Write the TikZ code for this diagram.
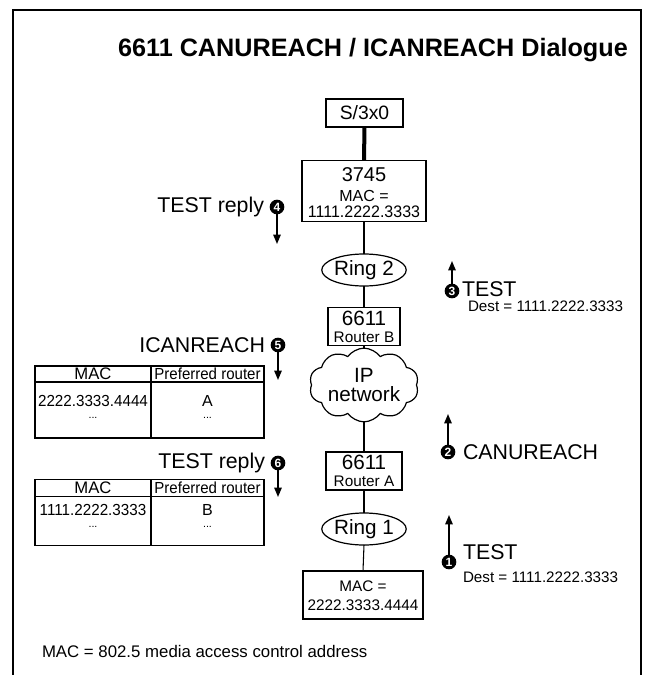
\documentclass[tikz,border=0pt]{standalone}
\usepackage{fontspec}
\setmainfont{Liberation Sans}
\usetikzlibrary{shapes.geometric,shapes.symbols,arrows.meta}
\newcommand{\fs}[1]{\fontsize{#1}{#1}\selectfont}
\begin{document}
\begin{tikzpicture}[x=0.75pt,y=-0.75pt,
  every node/.style={inner sep=0pt,outer sep=0pt},
  box/.style={draw,line width=0.9pt,rectangle},
  link/.style={line width=0.8pt},
  ring/.style={draw,line width=0.9pt,ellipse,minimum width=58pt,minimum height=24pt,font=\fs{15.5}},
  num/.style={circle,fill=black,text=white,minimum size=11pt,font=\bfseries\fs{9}},
  msg/.style={line width=1.2pt,-{Triangle[length=7pt,width=5.5pt]}},
  lab/.style={font=\fs{16}},
  small/.style={font=\fs{11.4}},
  cell/.style={draw,line width=0.8pt,rectangle},
  celltext/.style={font=\fs{12}},
]
\useasboundingbox (0,0) rectangle (647,675);
% frame
\coordinate (fbl) at (13,675); \coordinate (ftl) at (13,10);
\coordinate (ftr) at (641,10); \coordinate (fbr) at (641,675);
\draw[line width=1pt] (fbl) -- (ftl) -- (ftr) -- (fbr);
% title
\node[font=\bfseries\fs{18.9}] (title) at (373,50) {6611 CANUREACH / ICANREACH Dialogue};

% main column
\node[box,minimum width=57.75pt,minimum height=21pt,font=\fs{14.5}] (s3x0) at (364.5,113) {S/3x0};
\node[box,minimum width=93pt,minimum height=45.75pt] (b3745) at (364,191) {};
\node[font=\fs{15}] (t3745) at (364,175) {3745};
\node[font=\fs{12}] (m3745) at (364,196) {MAC =};
\node[font=\fs{12.5}] (a3745) at (364,211.5) {\scalebox{0.96}[1]{1111.2222.3333}};
\node[ring] (ring2) at (364,270) {Ring 2};
\node[box,minimum width=54pt,minimum height=28pt] (rb) at (364,326.5) {};
\node[font=\fs{15.5}] (rb1) at (364,318.5) {6611};
\node[font=\fs{11.5}] (rb2) at (364,337) {Router B};
\node[draw,line width=0.9pt,cloud,cloud puffs=10,cloud puff arc=110,aspect=1.7,
      minimum width=82pt,minimum height=46pt,align=center,font=\fs{15.5}] (cloud) at (364,385) {IP\\[-1pt]network};
\node[box,minimum width=57pt,minimum height=28.5pt] (ra) at (364,471) {};
\node[font=\fs{15.5}] (ra1) at (364,462.5) {6611};
\node[font=\fs{11.5}] (ra2) at (364,481) {Router A};
\node[ring] (ring1) at (364,529) {Ring 1};
\node[box,minimum width=90pt,minimum height=36pt] (host) at (363,595) {};
\node[font=\fs{11.5}] (hm) at (363,586) {MAC =};
\node[font=\fs{11.5}] (ha) at (363,605) {2222.3333.4444};

\draw[line width=3pt] (s3x0.south) -- (b3745.north);
\draw[link] (b3745.south) -- (ring2.north);
\draw[link] (ring2.south) -- (rb.north);
\draw[link] (rb.south) -- (cloud.north);
\draw[link] (cloud.south) -- (ra.north);
\draw[link] (ra.south) -- (ring1.north);
\draw[link] (ring1.south) -- (host.north);

% right side messages
\node[num] (n3) at (452,291) {3};
\coordinate (n3tip) at (452,261);
\draw[msg] (n3) -- (n3tip);
\node[lab,anchor=west] (l3) at (462,289) {TEST};
\node[small,anchor=west] (d3) at (468,306) {Dest = 1111.2222.3333};

\node[num] (n2) at (448,452) {2};
\coordinate (n2tip) at (448,414);
\draw[msg] (n2) -- (n2tip);
\node[lab,anchor=west] (l2) at (463,452) {CANUREACH};

\node[num] (n1) at (449,562) {1};
\coordinate (n1tip) at (449,515);
\draw[msg] (n1) -- (n1tip);
\node[lab,anchor=west] (l1) at (463,552) {TEST};
\node[small,anchor=west] (d1) at (463,577) {Dest = 1111.2222.3333};

% left side messages
\node[num] (n4) at (277,207) {4};
\coordinate (n4tip) at (277,244);
\draw[msg] (n4) -- (n4tip);
\node[lab,anchor=east] (l4) at (264,207) {TEST reply};

\node[num] (n5) at (278,345) {5};
\coordinate (n5tip) at (278,380);
\draw[msg] (n5) -- (n5tip);
\node[lab,anchor=east] (l5) at (265,345) {ICANREACH};

\node[num] (n6) at (278,463) {6};
\coordinate (n6tip) at (278,497);
\draw[msg] (n6) -- (n6tip);
\node[lab,anchor=east] (l6) at (265,463) {TEST reply};

% table 1
\node[cell,minimum width=87pt,minimum height=12pt] (t1h1) at (93,374) {};
\node[cell,minimum width=84.75pt,minimum height=12pt] (t1h2) at (207.5,374) {};
\node[cell,minimum width=87pt,minimum height=42pt] (t1b1) at (93,410) {};
\node[cell,minimum width=84.75pt,minimum height=42pt] (t1b2) at (207.5,410) {};
\node[font=\fs{12.5}] (t1h1t) at (93,374) {MAC};
\node[celltext] (t1h2t) at (207.5,374) {\scalebox{0.94}[1]{Preferred router}};
\node[celltext] (t1r1) at (93,401) {\scalebox{0.95}[1]{2222.3333.4444}};
\node[celltext] (t1r2) at (207.5,401) {A};
\node[font=\fs{8}] (t1d1) at (93,418) {...};
\node[font=\fs{8}] (t1d2) at (207.5,418) {...};

% table 2
\node[cell,minimum width=87pt,minimum height=12.5pt] (t2h1) at (93,488) {};
\node[cell,minimum width=84.75pt,minimum height=12.5pt] (t2h2) at (207.5,488) {};
\node[cell,minimum width=87pt,minimum height=37pt] (t2b1) at (93,521) {};
\node[cell,minimum width=84.75pt,minimum height=37pt] (t2b2) at (207.5,521) {};
\node[font=\fs{12.5}] (t2h1t) at (93,488) {MAC};
\node[celltext] (t2h2t) at (207.5,488) {\scalebox{0.94}[1]{Preferred router}};
\node[celltext] (t2r1) at (93,510) {\scalebox{0.95}[1]{1111.2222.3333}};
\node[celltext] (t2r2) at (207.5,510) {B};
\node[font=\fs{8}] (t2d1) at (93,527) {...};
\node[font=\fs{8}] (t2d2) at (207.5,527) {...};

% footnote
\node[font=\fs{12.6},anchor=west] (foot) at (42,651) {MAC = 802.5 media access control address};
\end{tikzpicture}
\end{document}
